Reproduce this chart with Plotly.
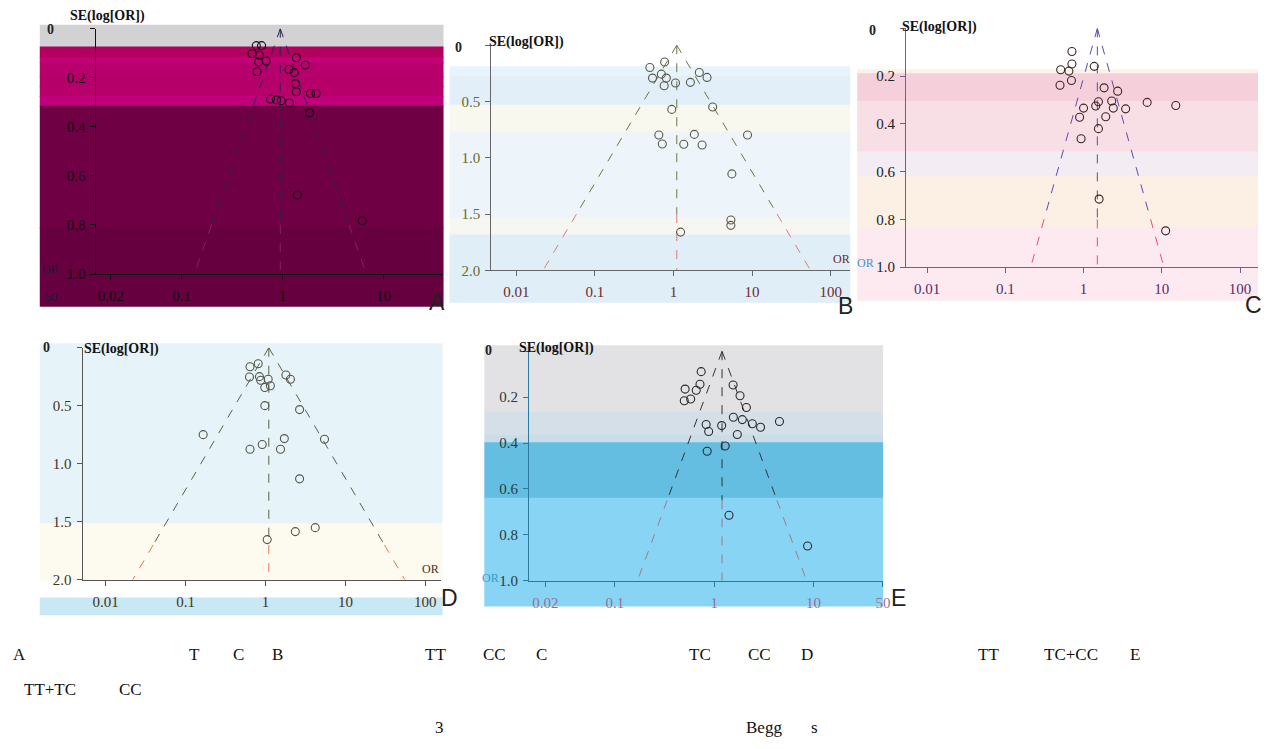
import numpy as np
import plotly.graph_objects as go

W, H = 1268, 749

# ---- data: odds ratio and standard error of log(OR) for each study ----
# A: T vs C
a_or = [0.55, 0.62, 0.50, 0.59, 0.58, 0.69, 0.56, 1.37, 1.68, 1.16, 1.31,
        1.34, 1.37, 1.89, 2.15, 0.76, 0.87, 0.97, 1.17, 1.85, 1.40, 6.15]
a_se = [0.069, 0.069, 0.102, 0.108, 0.136, 0.132, 0.175, 0.118, 0.148, 0.166, 0.179,
        0.224, 0.257, 0.264, 0.264, 0.287, 0.290, 0.294, 0.303, 0.343, 0.678, 0.783]
a_pooled = 0.95

# B: TT vs CC
b_or = [0.77, 0.50, 0.70, 0.54, 0.81, 0.76, 1.06, 1.64, 2.13, 2.67, 3.15,
        0.95, 0.65, 0.72, 1.84, 1.35, 2.31, 8.75, 5.53, 5.37, 5.37, 1.23]
b_se = [0.149, 0.198, 0.257, 0.292, 0.292, 0.360, 0.336, 0.330, 0.242, 0.286, 0.549,
        0.570, 0.798, 0.877, 0.792, 0.880, 0.886, 0.798, 1.143, 1.553, 1.600, 1.660]
b_pooled = 1.1

# C: TC vs CC
c_or = [0.71, 0.71, 0.51, 0.65, 1.37, 0.70, 0.50, 1.83, 2.73, 1.00, 1.43, 1.55,
        2.29, 2.40, 3.45, 6.50, 15.1, 0.89, 1.92, 1.55, 0.93, 1.58, 11.2]
c_se = [0.097, 0.149, 0.173, 0.179, 0.159, 0.218, 0.238, 0.249, 0.263, 0.334, 0.325, 0.307,
        0.304, 0.334, 0.337, 0.310, 0.323, 0.372, 0.370, 0.420, 0.462, 0.715, 0.848]
c_pooled = 1.5

# D: TT vs TC+CC
d_or = [0.64, 0.81, 0.63, 0.84, 0.87, 1.08, 0.98, 1.15, 1.80, 2.05, 0.98,
        2.67, 0.166, 1.72, 5.47, 0.91, 0.64, 1.54, 2.67, 2.36, 4.19, 1.05]
d_se = [0.164, 0.138, 0.252, 0.249, 0.280, 0.271, 0.343, 0.328, 0.235, 0.271, 0.499,
        0.533, 0.749, 0.783, 0.789, 0.834, 0.875, 0.875, 1.130, 1.585, 1.551, 1.654]
d_pooled = 1.1

# E: TT+TC vs CC
e_or = [0.74, 0.72, 0.51, 0.66, 0.50, 0.58, 1.55, 1.82, 2.11, 0.83, 0.88,
        1.19, 1.56, 1.92, 2.42, 2.93, 4.54, 1.71, 1.29, 0.85, 1.41, 8.71]
e_se = [0.089, 0.144, 0.165, 0.170, 0.216, 0.208, 0.147, 0.194, 0.245, 0.319, 0.350,
        0.324, 0.288, 0.298, 0.316, 0.331, 0.306, 0.363, 0.413, 0.436, 0.715, 0.849]
e_pooled = 1.2

# axis ticks
a_xticks = [0.02, 0.1, 1, 10]
a_xlabels = ["0.02", "0.1", "1", "10"]
bcd_xticks = [0.01, 0.1, 1, 10, 100]
bcd_xlabels = ["0.01", "0.1", "1", "10", "100"]
e_xticks = [0.02, 0.1, 1, 10, 50]
e_xlabels = ["0.02", "0.1", "1", "10", "50"]
se1_ticks = [0, 0.2, 0.4, 0.6, 0.8, 1.0]
se1_labels = ["", "0.2", "0.4", "0.6", "0.8", "1.0"]
se2_ticks = [0, 0.5, 1.0, 1.5, 2.0]
se2_labels = ["", "0.5", "1.0", "1.5", "2.0"]


def px(x):
    return x / W


def py(y):
    return 1 - y / H


panels = [
    dict(name="A", ors=a_or, ses=a_se, pooled=a_pooled, semax=1.0, split=0.8,
         box=(97, 445, 29, 277), xr=(-1.842, 1.584),
         xt=a_xticks, xl=a_xlabels, yt=se1_ticks, yl=se1_labels,
         mk="#1c0012", c_up="#2a2458", c_lo="#7a2a55", axc="#111111",
         xlc="#111111", ylc="#111111", letter=(439, 305), title=(68, 16), zero=(51, 30)),
    dict(name="B", ors=b_or, ses=b_se, pooled=b_pooled, semax=2.0, split=1.5,
         box=(494, 855, 45.7, 273.3), xr=(-2.32, 2.25),
         xt=bcd_xticks, xl=bcd_xlabels, yt=se2_ticks, yl=se2_labels,
         mk="#5a5a48", c_up="#6a7840", c_lo="#e07a78", axc="#666666",
         xlc="#6b2a2a", ylc="#6b6b2a", letter=(850, 309), title=(490, 42), zero=(461, 48)),
    dict(name="C", ors=c_or, ses=c_se, pooled=c_pooled, semax=1.0, split=0.8,
         box=(911, 1265, 28.7, 270), xr=(-2.27, 2.23),
         xt=bcd_xticks, xl=bcd_xlabels, yt=se1_ticks, yl=se1_labels,
         mk="#3a2626", c_up="#5a4ab0", c_lo="#e8506a", axc="#7a5a8a",
         xlc="#5a2a6a", ylc="#222222", letter=(1260, 308), title=(905, 27), zero=(877, 31)),
    dict(name="D", ors=d_or, ses=d_se, pooled=d_pooled, semax=2.0, split=1.7,
         box=(83, 443, 351.5, 586), xr=(-2.289, 2.19),
         xt=bcd_xticks, xl=bcd_xlabels, yt=se2_ticks, yl=se2_labels,
         mk="#55554a", c_up="#5e5e44", c_lo="#e87844", axc="#555555",
         xlc="#443322", ylc="#443322", letter=(452, 604), title=(82, 353), zero=(47, 351)),
    dict(name="E", ors=e_or, ses=e_se, pooled=e_pooled, semax=1.0, split=0.65,
         box=(532, 888, 355, 587), xr=(-1.863, 1.70),
         xt=e_xticks, xl=e_xlabels, yt=se1_ticks, yl=se1_labels,
         mk="#2a2a2a", c_up="#333333", c_lo="#a07888", axc="#2a7aa0",
         xlc="#9a7090", ylc="#2a3a3a", letter=(903, 604), title=(520, 352), zero=(491, 354)),
]

# background bands behind each panel: (x0, x1, y0, y1, colour) in pixels
bands = [
    (40, 446, 25, 47, "#d2d2d4"),
    (40, 446, 47, 58, "#b2005f"),
    (40, 446, 58, 63, "#c6007a"),
    (40, 446, 63, 77, "#b8006c"),
    (40, 446, 77, 87, "#b40068"),
    (40, 446, 87, 97, "#b8006a"),
    (40, 446, 97, 107, "#c0007a"),
    (40, 446, 107, 230, "#700044"),
    (40, 446, 230, 310, "#66003e"),
    (452, 855, 67, 77, "#e8f4fb"),
    (452, 855, 77, 106, "#e2eff8"),
    (452, 855, 106, 133, "#f8f8ee"),
    (452, 855, 133, 220, "#eef5fa"),
    (452, 855, 220, 237, "#f6f6f2"),
    (452, 855, 237, 306, "#e0eef8"),
    (862, 1265, 70, 74, "#fbf1e6"),
    (862, 1265, 74, 102, "#f5d0da"),
    (862, 1265, 102, 153, "#f8dfe5"),
    (862, 1265, 153, 178, "#f3ecf3"),
    (862, 1265, 178, 230, "#fcefe3"),
    (862, 1265, 230, 304, "#fde9f0"),
    (40, 445, 347, 529, "#e6f4fa"),
    (40, 445, 529, 587, "#fdfaf0"),
    (40, 445, 604, 622, "#c8e8f5"),
    (487, 888, 349, 416, "#e2e2e4"),
    (487, 888, 416, 440, "#d5dfe7"),
    (487, 888, 440, 447, "#c8dde8"),
    (487, 888, 447, 503, "#64bee2"),
    (487, 888, 503, 613, "#87d4f5"),
]

fig = go.Figure()
layout = dict(
    width=W, height=H, margin=dict(l=0, r=0, t=0, b=0),
    paper_bgcolor="white", plot_bgcolor="rgba(0,0,0,0)", showlegend=False,
    shapes=[], annotations=[],
)

for k, (x0, x1, y0, y1, col) in enumerate(bands):
    # let each band run slightly under the next one so no seam shows
    nxt = bands[k + 1] if k + 1 < len(bands) else None
    overlap = 1 if nxt is not None and nxt[0] == x0 and nxt[2] == y1 else 0
    layout["shapes"].append(dict(type="rect", xref="paper", yref="paper",
                                 x0=px(x0), x1=px(x1), y0=py(y1 + overlap), y1=py(y0),
                                 fillcolor=col, line=dict(width=0), layer="below"))

serif = "Liberation Serif"

for i, p in enumerate(panels, start=1):
    xa = "x" if i == 1 else f"x{i}"
    ya = "y" if i == 1 else f"y{i}"
    bx0, bx1, by0, by1 = p["box"]

    # pseudo 95% confidence limits around the pooled estimate
    s_up = np.linspace(0, p["split"], 2)
    s_lo = np.linspace(p["split"], p["semax"], 2)
    for s, col in ((s_up, p["c_up"]), (s_lo, p["c_lo"])):
        lx = list(p["pooled"] * np.exp(-1.96 * s)) + [None] + list(p["pooled"] * np.exp(1.96 * s))
        ly = list(s) + [None] + list(s)
        fig.add_trace(go.Scatter(x=lx, y=ly, mode="lines", xaxis=xa, yaxis=ya,
                                 line=dict(color=col, width=1, dash="dash"), hoverinfo="skip"))
        fig.add_trace(go.Scatter(x=[p["pooled"], p["pooled"]], y=[s[0], s[-1]], mode="lines",
                                 xaxis=xa, yaxis=ya, line=dict(color=col, width=1, dash="dash"),
                                 hoverinfo="skip"))

    fig.add_trace(go.Scatter(x=p["ors"], y=p["ses"], mode="markers", xaxis=xa, yaxis=ya,
                             marker=dict(symbol="circle-open", size=8, color=p["mk"],
                                         line=dict(width=1.1, color=p["mk"]))))

    xkey = "xaxis" if i == 1 else f"xaxis{i}"
    ykey = "yaxis" if i == 1 else f"yaxis{i}"
    layout[xkey] = dict(
        type="log", range=list(p["xr"]), domain=[px(bx0), px(bx1)], anchor=ya,
        tickvals=p["xt"], ticktext=p["xl"], ticks="outside", ticklen=5,
        tickcolor=p["axc"], showline=True, linecolor=p["axc"], linewidth=1,
        showgrid=False, zeroline=False, ticklabelstandoff=3,
        tickfont=dict(family=serif, size=15, color=p["xlc"]),
    )
    layout[ykey] = dict(
        range=[p["semax"], 0], domain=[py(by1), py(by0)], anchor=xa,
        tickvals=p["yt"], ticktext=p["yl"], ticks="outside", ticklen=5,
        tickcolor=p["axc"], showline=True, linecolor=p["axc"], linewidth=1,
        showgrid=False, zeroline=False, ticklabelstandoff=2,
        tickfont=dict(family=serif, size=15, color=p["ylc"]),
    )

    tx, ty = p["title"]
    layout["annotations"].append(dict(
        text="<b>SE(log[OR])</b>", xref="paper", yref="paper", x=px(tx), y=py(ty),
        xanchor="left", yanchor="middle", showarrow=False,
        font=dict(family=serif, size=14, color="#111111")))
    zx, zy = p["zero"]
    layout["annotations"].append(dict(
        text="<b>0</b>", xref="paper", yref="paper", x=px(zx), y=py(zy),
        xanchor="center", yanchor="middle", showarrow=False,
        font=dict(family=serif, size=14, color="#222222")))
    lx_, ly_ = p["letter"]
    layout["annotations"].append(dict(
        text=p["name"], xref="paper", yref="paper", x=px(lx_), y=py(ly_),
        xanchor="center", yanchor="middle", showarrow=False,
        font=dict(family="Liberation Sans", size=23, color="#222222")))

# axis-end labels
or_labels = [(51, 272, "OR", "#1a1a40"), (51, 300, "50", "#1a1a40"),
             (846, 262, "OR", "#6b2a2a"), (433, 575, "OR", "#443322"),
             (870, 266, "OR", "#3a9ad0"), (493, 584, "OR", "#3a9ad0")]
for x, y, t, col in or_labels:
    layout["annotations"].append(dict(
        text=t, xref="paper", yref="paper", x=px(x), y=py(y), xanchor="center",
        yanchor="middle", showarrow=False, font=dict(family=serif, size=12, color=col)))

# figure caption
caption = [
    (11, 662, "A"), (188, 662, "T"), (232, 662, "C"), (272, 662, "B"),
    (425, 662, "TT"), (484, 662, "CC"), (537, 662, "C"),
    (691, 662, "TC"), (750, 662, "CC"), (803, 662, "D"),
    (981, 662, "TT"), (1048, 662, "TC+CC"), (1134, 662, "E"),
    (22, 697, "TT+TC"), (118, 697, "CC"),
    (435, 735, "3"), (748, 735, "Begg"), (813, 735, "s"),
]
for x, y, t in caption:
    layout["annotations"].append(dict(
        text=t, xref="paper", yref="paper", x=px(x), y=py(y), xanchor="left",
        yanchor="middle", showarrow=False, font=dict(family=serif, size=17, color="#111111")))

fig.update_layout(**layout)
fig.write_html("out.html")
